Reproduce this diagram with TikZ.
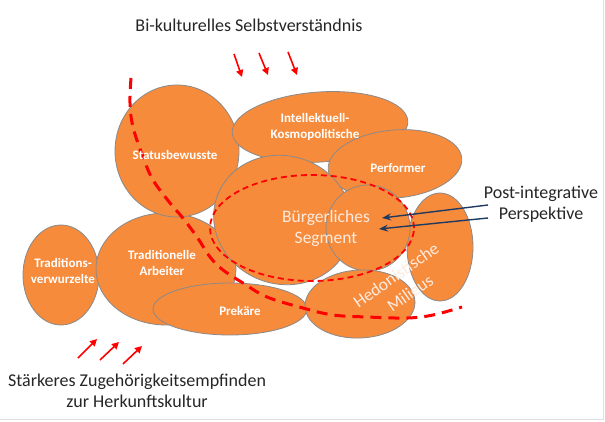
\documentclass[tikz,border=0pt]{standalone}
\usepackage{fontspec}
\setmainfont{Carlito}
\usetikzlibrary{shapes.geometric,arrows.meta}
\definecolor{blobfill}{HTML}{F68B3C}
\definecolor{blobline}{HTML}{8A8A8A}
\definecolor{navy}{HTML}{1F3A60}
\definecolor{peach}{HTML}{FDEBDF}
\definecolor{txt}{HTML}{262626}
\definecolor{redd}{HTML}{FF0000}
\begin{document}
\begin{tikzpicture}[x=1pt,y=-1pt,
 blob/.style={ellipse, draw=blobline, fill=blobfill, line width=0.8pt, inner sep=0pt},
 lbl/.style={text=white, font=\fontsize{13}{16}\selectfont\bfseries, align=center, inner sep=0pt},
 seg/.style={text=peach, font=\fontsize{17.5}{21}\selectfont, align=center, inner sep=0pt},
 captxt/.style={text=txt, font=\fontsize{18}{21}\selectfont, align=center, inner sep=0pt},
 redarrow/.style={draw=redd, line width=1.6pt, -{Triangle[length=7pt,width=7pt]}},
 bluearrow/.style={draw=navy, line width=1.4pt, -{Stealth[length=9pt,width=7pt]}},
 bigdash/.style={draw=redd, line width=3pt, dash pattern=on 11pt off 7pt},
 smalldash/.style={draw=redd, line width=1.8pt, dash pattern=on 6pt off 4pt}
]
\useasboundingbox (0,0) rectangle (605,422);
\fill[white] (0,0) rectangle (605,422);
\draw[gray!25, line width=1pt] (603,0) -- (603,419) -- (0,419);

% blobs
\node[blob, minimum width=76pt, minimum height=100pt] (tv) at (61,275) {};
\node[blob, minimum width=140pt, minimum height=112pt] (ta) at (166,269) {};
\node[blob, minimum width=124pt, minimum height=132pt] (sb) at (177,151) {};
\node[blob, minimum width=176pt, minimum height=70pt, rotate=4] (ik) at (320,127) {};
\node[blob, minimum width=134pt, minimum height=68pt, rotate=5] (pf) at (395,164) {};
\node[blob, minimum width=154pt, minimum height=52pt] (pk) at (230,309) {};
\node[blob, minimum width=140pt, minimum height=128pt, rotate=-20] (bs) at (283,220) {};
\node[blob, minimum width=66pt, minimum height=108pt] (ht) at (440,247) {};
\node[blob, minimum width=84pt, minimum height=86pt] (bc) at (368,228) {};
\node[blob, minimum width=110pt, minimum height=68pt, rotate=3] (hl) at (360,304) {};

% dashed outlines
\node[smalldash, ellipse, minimum width=204pt, minimum height=106pt, inner sep=0pt] (bse) at (312,228) {};
\draw[bigdash] plot[smooth, tension=0.6] coordinates {(131,78) (130,103) (133,127) (143,157) (153,180) (170,203) (182,217) (197,237) (210,257) (223,270) (243,283) (267,297) (303,308) (333,315) (367,317) (407,318) (433,315) (462,307)};

% labels
\node[lbl] (tvl) at (63,271) {Traditions-\\verwurzelte};
\node[lbl] (tal) at (162,263) {Traditionelle\\Arbeiter};
\node[lbl] (sbl) at (175,155) {Statusbewusste};
\node[lbl] (ikl) at (315,127) {Intellektuell-\\Kosmopolitische};
\node[lbl] (pfl) at (398,168) {Performer};
\node[lbl] (pkl) at (240,311) {Prekäre};
\node[seg] (bsl) at (326,228) {Bürgerliches\\Segment};
\node[seg, rotate=35] (hml1) at (396,275) {Hedonistische};
\node[seg, rotate=35] (hml2) at (410,293) {Milieus};

% captions
\node[captxt] (title) at (249,25) {Bi-kulturelles Selbstverständnis};
\node[captxt] (bottom) at (137,391) {Stärkeres Zugehörigkeitsempfinden\\zur Herkunftskultur};
\node[captxt] (post) at (541,204) {Post-integrative\\Perspektive};

% red arrows
\coordinate (t1a) at (234,54); \coordinate (t1b) at (242,77);
\coordinate (t2a) at (259,53); \coordinate (t2b) at (268,75);
\coordinate (t3a) at (288,52); \coordinate (t3b) at (297,75);
\draw[redarrow] (t1a) -- (t1b);
\draw[redarrow] (t2a) -- (t2b);
\draw[redarrow] (t3a) -- (t3b);
\coordinate (b1a) at (78,358); \coordinate (b1b) at (97,339);
\coordinate (b2a) at (100,360); \coordinate (b2b) at (119,342);
\coordinate (b3a) at (123,364); \coordinate (b3b) at (142,346);
\draw[redarrow] (b1a) -- (b1b);
\draw[redarrow] (b2a) -- (b2b);
\draw[redarrow] (b3a) -- (b3b);

% blue arrows
\coordinate (p1a) at (488,205); \coordinate (p1b) at (382,218);
\coordinate (p2a) at (488,218); \coordinate (p2b) at (379,229);
\draw[bluearrow] (p1a) -- (p1b);
\draw[bluearrow] (p2a) -- (p2b);
\end{tikzpicture}
\end{document}
